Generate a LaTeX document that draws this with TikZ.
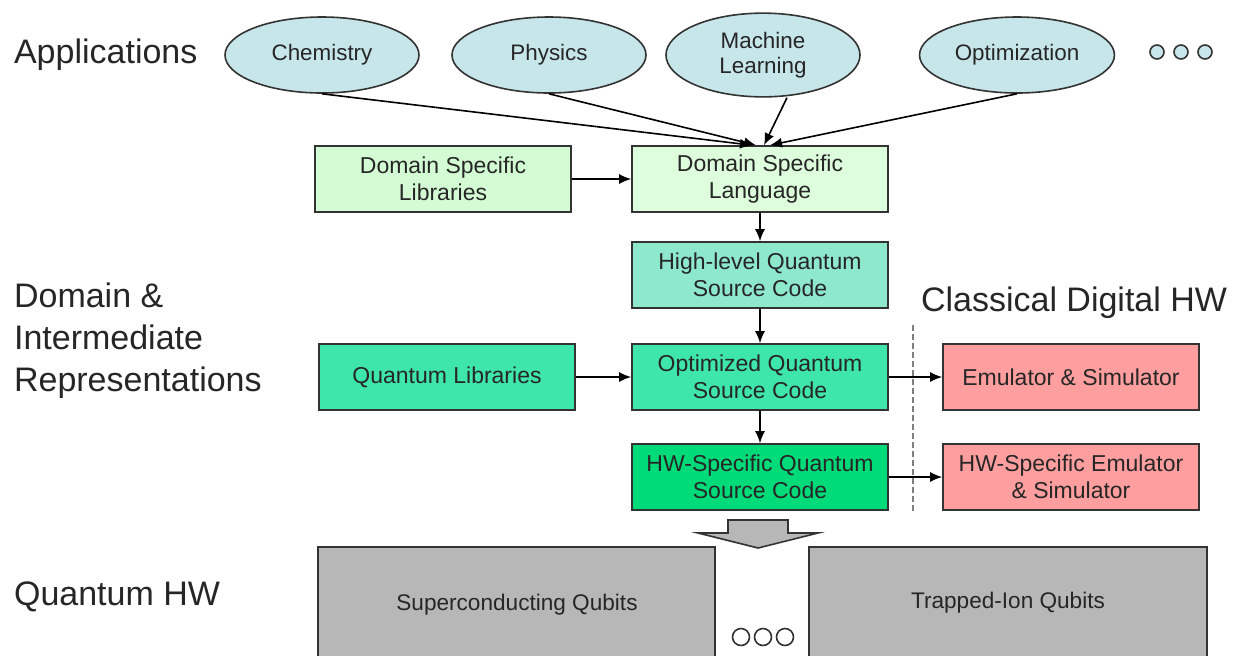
\documentclass[tikz,border=0pt]{standalone}
\usepackage{fontspec}
\setmainfont{Liberation Sans}
\usetikzlibrary{positioning}
\usetikzlibrary{shapes.geometric}
\usetikzlibrary{arrows.meta}

\definecolor{appblue}{HTML}{C7E6EA}
\definecolor{dslgreen}{HTML}{D4FCD4}
\definecolor{hlqgreen}{HTML}{8EE8CB}
\definecolor{oqgreen}{HTML}{3FE6AB}
\definecolor{hwgreen}{HTML}{00DB79}
\definecolor{emured}{HTML}{FF9E9E}
\definecolor{qhwgray}{HTML}{B7B7B7}
\definecolor{edgegray}{HTML}{333333}

\tikzset{
 app/.style={ellipse,draw=edgegray,fill=appblue,thick,minimum width=97pt,minimum height=38pt,
   font=\fontsize{11.2}{12.5}\selectfont,align=center,text=black!85},
 stage/.style={rectangle,draw=edgegray,thick,minimum width=128pt,minimum height=33pt,
   font=\fontsize{11.5}{13.5}\selectfont,align=center,text=black!85},
 layer/.style={font=\fontsize{17}{21}\selectfont,align=left,anchor=west,text=black!85},
 flow/.style={-{Latex[length=6pt,width=5pt]},thick},
 dot/.style={circle,draw=edgegray,thick,minimum size=7pt,inner sep=0pt}
}

\begin{document}
\begin{tikzpicture}[x=0.5pt,y=-0.5pt]
 \useasboundingbox (0,0) rectangle (1239,655);
 \clip (0,0) rectangle (1239,655);

 % layer titles
 \node[layer] (tapp) at (7,55) {Applications};
 \node[layer] (tdom) at (7,341) {Domain \&\\Intermediate\\Representations};
 \node[layer] (tqhw) at (7,597) {Quantum HW};
 \node[layer] (tcls) at (914,303) {Classical Digital HW};

 % applications
 \node[app] (chem) at (322,55) {Chemistry};
 \node[app] (phys) at (549,55) {Physics};
 \node[app] (ml) at (763,55) {Machine\\Learning};
 \node[app] (opt) at (1017,55) {Optimization};
 \node[dot,fill=appblue] (d1) at (1157,52) {};
 \node[dot,fill=appblue] (d2) at (1181,52) {};
 \node[dot,fill=appblue] (d3) at (1205,52) {};

 % domain and intermediate
 \node[stage,fill=dslgreen] (dslib) at (443,179) {Domain Specific\\Libraries};
 \node[stage,fill=dslgreen!80!white] (dsl) at (760,179) {Domain Specific\\Language};
 \node[stage,fill=hlqgreen] (hlq) at (760,275) {High-level Quantum\\Source Code};
 \node[stage,fill=oqgreen] (qlib) at (447,377) {Quantum Libraries};
 \node[stage,fill=oqgreen] (oq) at (760,377) {Optimized Quantum\\Source Code};
 \node[stage,fill=hwgreen] (hwq) at (760,477) {HW-Specific Quantum\\Source Code};
 \node[stage,fill=emured] (emu) at (1071,377) {Emulator \& Simulator};
 \node[stage,fill=emured] (hwemu) at (1071,477) {HW-Specific Emulator\\\& Simulator};

 \coordinate (top) at (913,325);
 \coordinate (bot) at (913,512);
 \draw[dash pattern=on 3pt off 1.5pt,thick,gray] (top) -- (bot);

 \draw[flow] (chem.south) -- ([xshift=-4]dsl.north);
 \draw[flow] (phys.south) -- ([xshift=-2]dsl.north);
 \draw[flow] ([xshift=12]ml.south) -- ([xshift=2]dsl.north);
 \draw[flow] (opt.south) -- ([xshift=5]dsl.north);
 \draw[flow] (dslib) -- (dsl);
 \draw[flow] (dsl) -- (hlq);
 \draw[flow] (hlq) -- (oq);
 \draw[flow] (oq) -- (hwq);
 \draw[flow] (qlib) -- (oq);
 \draw[flow] (oq) -- (emu);
 \draw[flow] (hwq) -- (hwemu);

 % quantum hardware
 \draw[thick,draw=edgegray,fill=qhwgray] (728,520) -- (788,520) -- (788,533) -- (818,533)
   -- (758,548) -- (698,533) -- (728,533) -- cycle;
 \draw[thick,draw=edgegray,fill=qhwgray] (318,665) -- (318,547) -- (715,547) -- (715,665);
 \draw[thick,draw=edgegray,fill=qhwgray] (809,665) -- (809,547) -- (1207,547) -- (1207,665);
 \node[font=\fontsize{11.3}{13}\selectfont,text=black!85] (sq) at (517,605) {Superconducting Qubits};
 \node[font=\fontsize{11.3}{13}\selectfont,text=black!85] (ti) at (1008,603) {Trapped-Ion Qubits};
 \node[dot,minimum size=8.5pt] (b1) at (741,637) {};
 \node[dot,minimum size=8.5pt] (b2) at (763,637) {};
 \node[dot,minimum size=8.5pt] (b3) at (785,637) {};
\end{tikzpicture}
\end{document}
